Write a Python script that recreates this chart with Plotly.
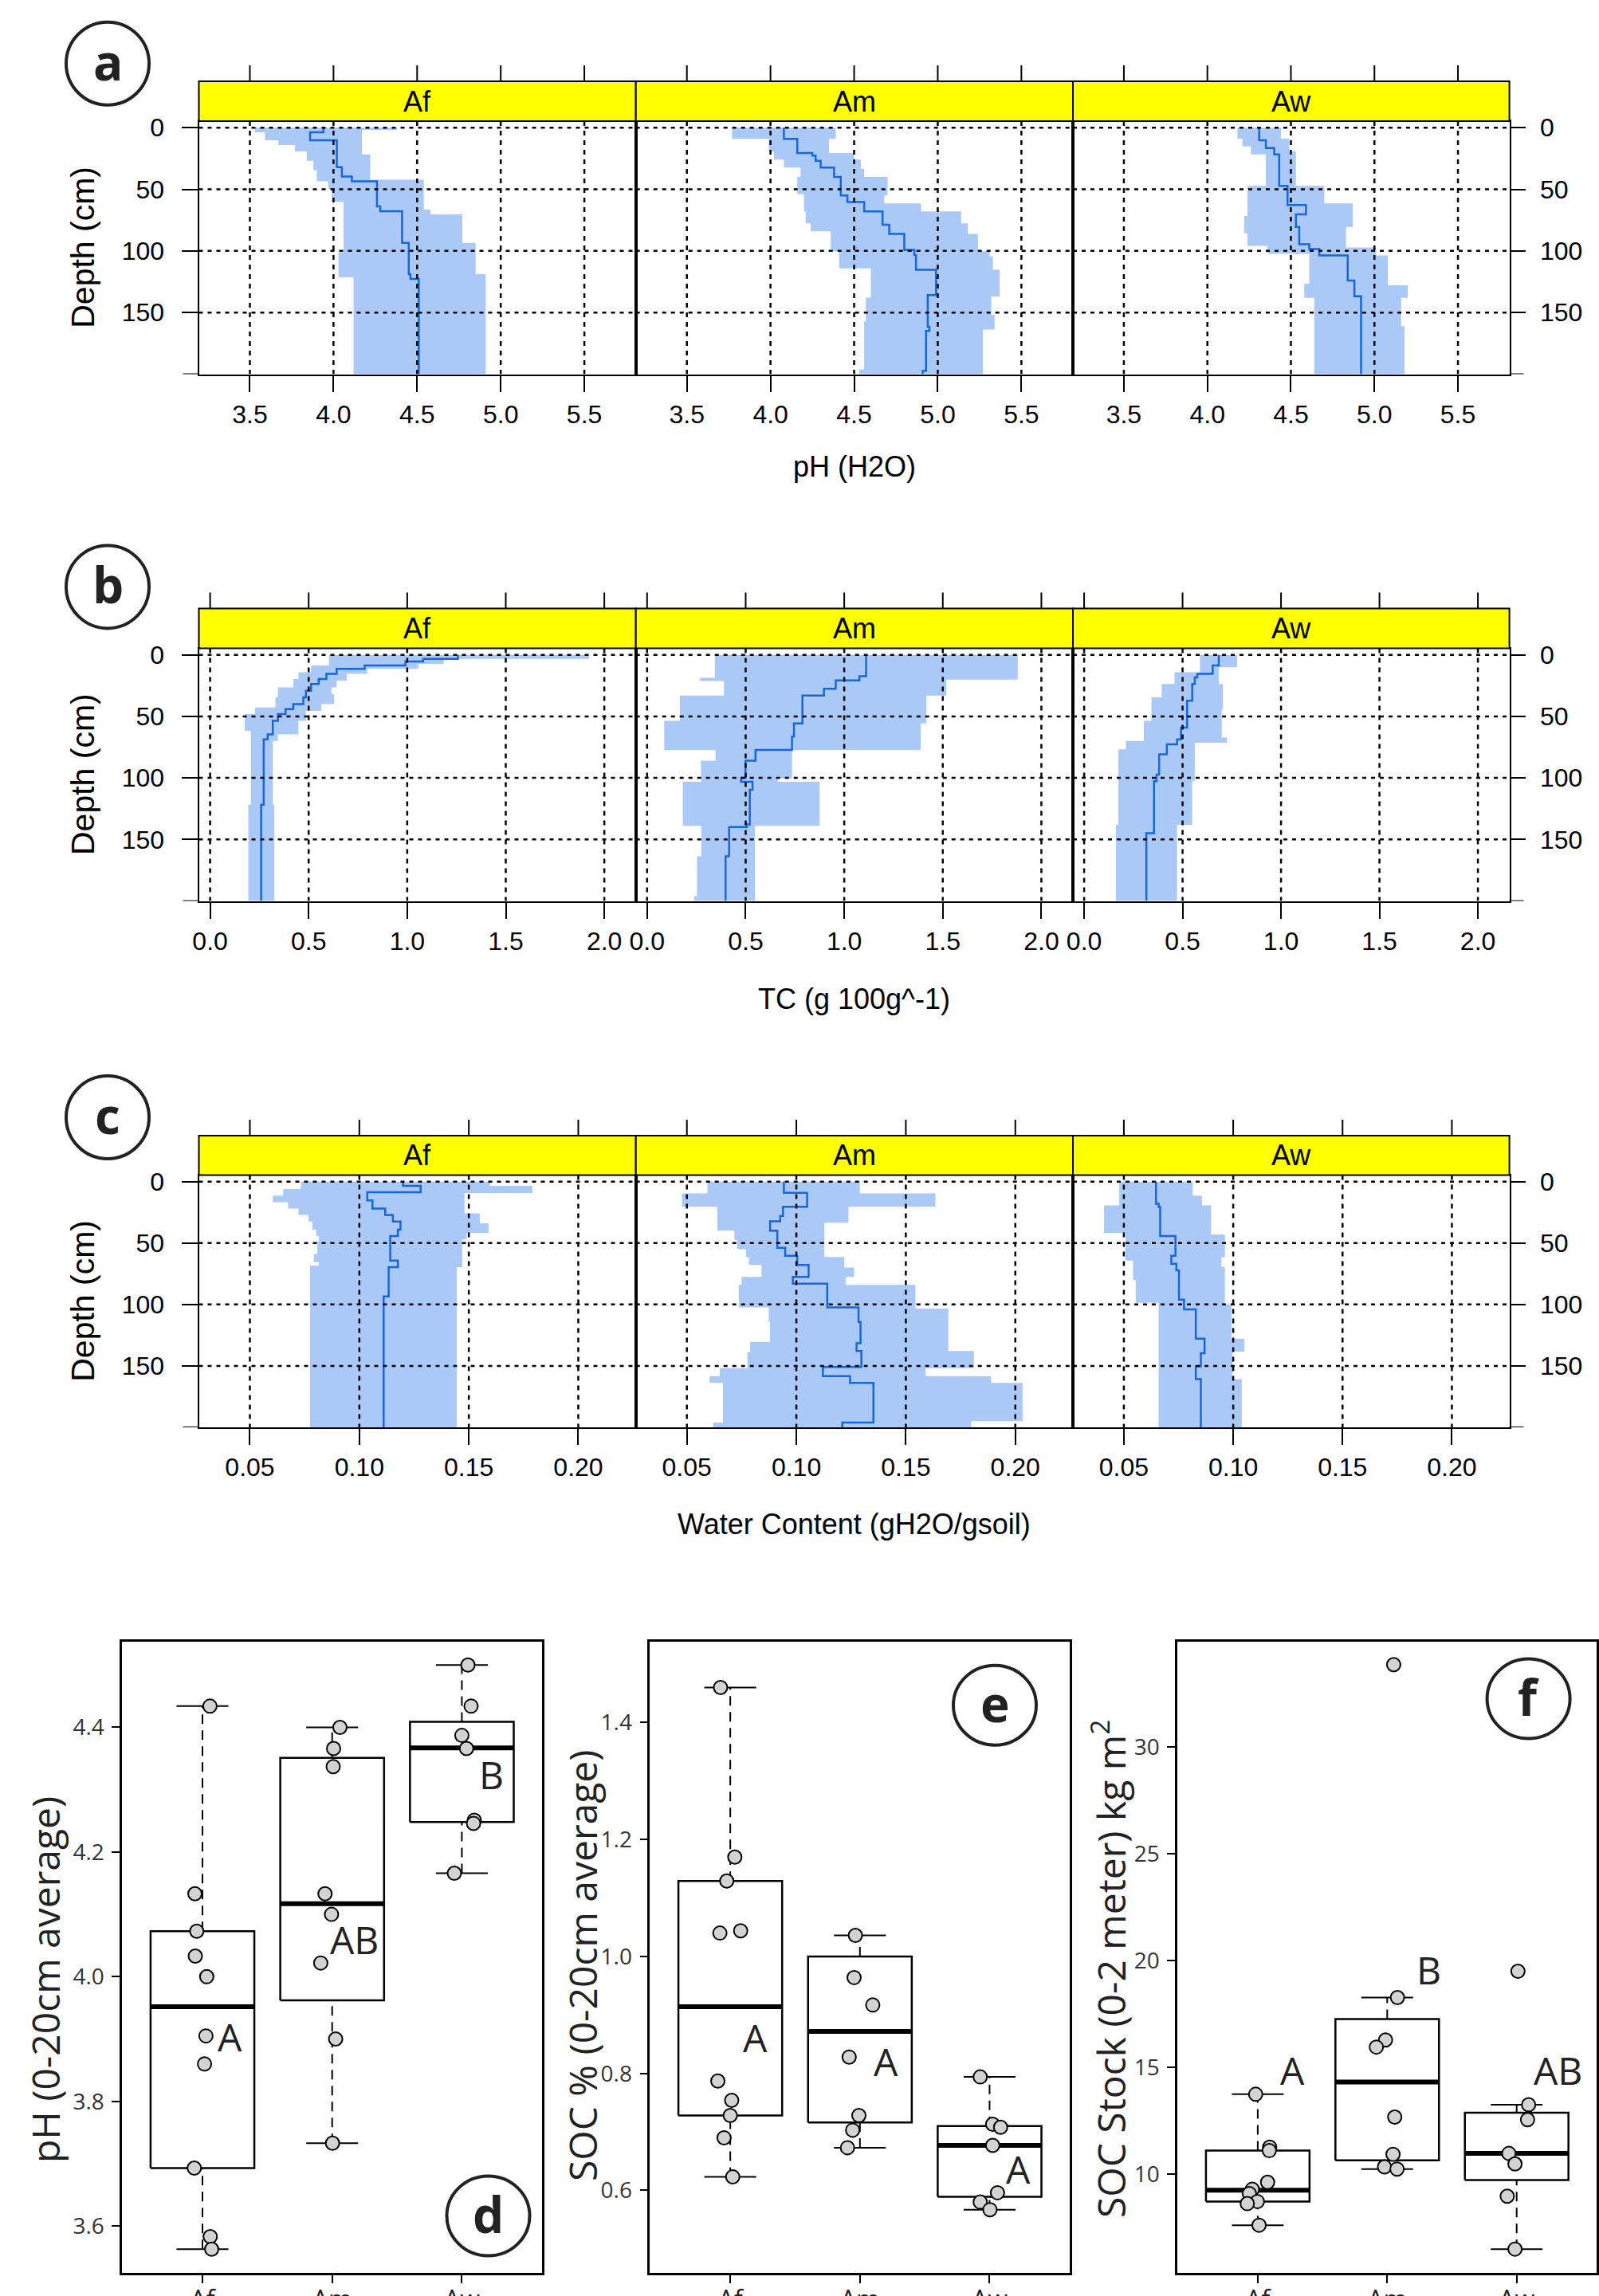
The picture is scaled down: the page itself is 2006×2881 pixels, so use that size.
import plotly.graph_objects as go

W, H = 2006, 2881
SITES = ["Af", "Am", "Aw"]

# ---------------- depth profiles: (top depth cm, value) steps ----------------
PH_AF_LO = [(0, 3.53), (3.8, 3.59), (10.2, 3.67), (14.1, 3.77), (19.2, 3.84), (26.9, 3.88), (34.5, 3.90),
            (43.5, 3.97), (49.9, 3.99), (60.1, 4.06), (101, 4.03), (121.5, 4.12)]
PH_AF_MEAN = [(0, 3.94), (3.8, 3.86), (10.2, 4.02), (32, 4.05), (39.6, 4.11), (43.5, 4.26), (63.9, 4.28),
              (67.8, 4.41), (93.4, 4.45), (118.9, 4.46), (122.8, 4.51)]
PH_AF_HI = [(0, 4.38), (1.8, 4.17), (21.7, 4.22), (42.2, 4.54), (66.5, 4.58), (70.3, 4.77), (93.4, 4.85),
            (118.9, 4.91)]

PH_AM_LO = [(0, 3.77), (9.1, 3.99), (19.4, 4.02), (25.9, 4.08), (32.3, 4.18), (39.9, 4.16), (53.9, 4.20),
            (67.9, 4.21), (77.6, 4.24), (84.1, 4.36), (100.2, 4.41), (114.2, 4.60), (137.9, 4.57),
            (157.3, 4.56), (196.1, 4.53)]
PH_AM_MEAN = [(0, 4.08), (9.1, 4.16), (20.5, 4.25), (22.6, 4.27), (26.9, 4.30), (32.3, 4.38), (39.9, 4.42),
              (55, 4.46), (60.3, 4.56), (67.9, 4.67), (78.7, 4.71), (86.2, 4.80), (99.1, 4.86),
              (103.4, 4.87), (115.3, 4.99), (135.8, 4.94), (161.6, 4.95), (164.9, 4.93), (197.2, 4.91)]
PH_AM_HI = [(0, 4.39), (9.1, 4.35), (20.5, 4.50), (25.9, 4.54), (33.4, 4.56), (39.9, 4.70), (55, 4.68),
            (61.4, 4.90), (67.9, 5.14), (77.6, 5.18), (86.2, 5.24), (100.2, 5.31), (104.5, 5.33),
            (115.3, 5.37), (136.9, 5.32), (151.9, 5.34), (163.8, 5.27)]

PH_AW_LO = [(0, 4.18), (9, 4.21), (15.3, 4.26), (21.7, 4.35), (47.3, 4.24), (71.6, 4.22), (85.7, 4.24),
            (95.9, 4.36), (102.3, 4.61), (126.6, 4.58), (138.1, 4.64)]
PH_AW_MEAN = [(0, 4.31), (10.2, 4.35), (16.6, 4.40), (21.7, 4.43), (47.3, 4.48), (62.7, 4.59), (70.3, 4.53),
              (80.6, 4.55), (94.6, 4.61), (98.5, 4.67), (103.6, 4.84), (124, 4.88), (136.8, 4.92)]
PH_AW_HI = [(0, 4.44), (9, 4.49), (19.2, 4.53), (47.3, 4.70), (61.4, 4.87), (80.6, 4.83), (97.2, 5.01),
            (103.6, 5.08), (127.9, 5.20), (138.1, 5.16), (161.1, 5.18)]

TC_AF_LO = [(0, 0.603), (8.7, 0.512), (14.2, 0.448), (19.6, 0.422), (26.4, 0.344), (34.6, 0.331),
            (42.8, 0.228), (48.2, 0.176), (61.9, 0.207), (121.8, 0.194)]
TC_AF_MEAN = [(0, 1.257), (3.3, 1.081), (5.4, 0.991), (8.7, 0.784), (11.4, 0.642), (15.5, 0.590),
              (19.6, 0.551), (23.7, 0.512), (29.2, 0.486), (34.6, 0.473), (40.1, 0.422), (44.1, 0.383),
              (48.2, 0.344), (53.7, 0.318), (64.6, 0.292), (68.7, 0.272), (121.8, 0.259)]
TC_AF_HI = [(0, 1.922), (3.3, 1.185), (7.4, 1.056), (11.4, 0.797), (15.5, 0.693), (21, 0.642), (26.4, 0.616),
            (31.9, 0.629), (40.1, 0.564), (45.5, 0.486), (53.7, 0.448), (64.6, 0.344), (70, 0.318),
            (121.8, 0.326)]

TC_AM_LO = [(0, 0.344), (18.6, 0.268), (21.2, 0.390), (33, 0.166), (53.6, 0.087), (77.3, 0.347), (86, 0.272),
            (100.4, 0.275), (103.2, 0.181), (138.9, 0.275), (163.7, 0.253), (196.1, 0.239)]
TC_AM_MEAN = [(0, 1.111), (17.3, 1.077), (20.7, 0.957), (27.6, 0.897), (33, 0.788), (55.7, 0.745),
              (66.5, 0.735), (77.3, 0.550), (86, 0.499), (100, 0.477), (103.2, 0.535), (109.7, 0.521),
              (137.8, 0.506), (140, 0.416), (163.7, 0.398)]
TC_AM_HI = [(0, 1.880), (20.1, 1.518), (33, 1.417), (55.7, 1.388), (77.3, 0.735), (100.4, 0.665),
            (103.2, 0.875), (138.9, 0.547)]

TC_AW_LO = [(0, 0.588), (14.2, 0.459), (23.7, 0.394), (34.6, 0.342), (53.7, 0.303), (70, 0.212),
            (76.8, 0.174), (138.1, 0.161)]
TC_AW_MEAN = [(0, 0.684), (8.7, 0.653), (15.5, 0.575), (18.3, 0.562), (23.7, 0.549), (37.3, 0.523),
              (59.1, 0.492), (68.7, 0.472), (72.8, 0.420), (80.9, 0.381), (97.3, 0.368), (102.7, 0.355),
              (145, 0.316)]
TC_AW_HI = [(0, 0.777), (10.1, 0.684), (23.7, 0.705), (44.1, 0.699), (67.3, 0.725), (71.4, 0.562),
            (102.7, 0.549), (138.1, 0.472)]

WC_AF_LO = [(0, 0.0733), (6.1, 0.0652), (11.4, 0.0605), (16.7, 0.0675), (22, 0.0722), (27.2, 0.0768),
            (32.5, 0.0785), (39.2, 0.0803), (44.4, 0.0815), (48.4, 0.0808), (59, 0.0792), (65.6, 0.0815),
            (68.3, 0.0775)]
WC_AF_MEAN = [(0, 0.1200), (3.4, 0.1280), (8.7, 0.1036), (15.3, 0.1060), (22, 0.1118), (27.2, 0.1153),
              (32.5, 0.1188), (39.2, 0.1176), (44.4, 0.1141), (64.3, 0.1176), (69.6, 0.1134), (93.4, 0.1111)]
WC_AF_HI = [(0, 0.1596), (3.4, 0.1790), (9.3, 0.1480), (25.9, 0.1550), (33.9, 0.1590), (41.8, 0.1490),
            (47.1, 0.1470), (69.6, 0.1445)]

WC_AM_LO = [(0, 0.0594), (9.7, 0.0477), (20.5, 0.0639), (39.9, 0.0717), (47.4, 0.0730), (55, 0.0770),
            (61.4, 0.0783), (67.9, 0.0841), (77.6, 0.0750), (84.1, 0.0737), (102.4, 0.0874), (114.2, 0.0880),
            (130.4, 0.0789), (139, 0.0776), (151.9, 0.0650), (158.4, 0.0604), (163.8, 0.0665),
            (196.1, 0.0620)]
WC_AM_MEAN = [(0, 0.0943), (9.1, 0.1049), (20.5, 0.0939), (28, 0.0926), (32.3, 0.0880), (39.9, 0.0913),
              (53.9, 0.0949), (60.3, 0.1004), (67.9, 0.1056), (77.6, 0.0984), (83, 0.1141), (102.4, 0.1284),
              (114.2, 0.1293), (131.5, 0.1275), (137.9, 0.1297), (150.9, 0.1121), (158.4, 0.1245),
              (163.8, 0.1352), (196.1, 0.1210)]
WC_AM_HI = [(0, 0.1290), (9.7, 0.1635), (20.5, 0.1238), (33.4, 0.1128), (61.4, 0.1219), (70, 0.1264),
            (77.6, 0.1225), (84.1, 0.1544), (103.4, 0.1694), (137.9, 0.1811), (151.9, 0.1590),
            (158.4, 0.1889), (163.8, 0.2033), (195, 0.1798)]

WC_AW_LO = [(0, 0.0479), (19.3, 0.0409), (41.8, 0.0507), (64.3, 0.0542), (80.2, 0.0554), (98.7, 0.0659)]
WC_AW_MEAN = [(0, 0.0647), (18, 0.0659), (20.6, 0.0666), (44.4, 0.0736), (60.3, 0.0717), (66.9, 0.0740),
              (72.2, 0.0752), (96, 0.0775), (104, 0.0829), (127.8, 0.0869), (139.7, 0.0852), (150.3, 0.0829),
              (160.8, 0.0852)]
WC_AW_HI = [(0, 0.0815), (11.4, 0.0857), (19.3, 0.0899), (43.1, 0.0962), (61.6, 0.0946), (69.6, 0.0962),
            (100, 0.0992), (127.8, 0.1051), (138.4, 0.0997), (160.8, 0.1039)]

PH_TICKS = [3.5, 4.0, 4.5, 5.0, 5.5]
TC_TICKS = [0.0, 0.5, 1.0, 1.5, 2.0]
WC_TICKS = [0.05, 0.10, 0.15, 0.20]
DEPTH_TICKS = [0, 50, 100, 150]
DEPTH_BOTTOM = 200

# ---------------- boxplot data ----------------
# box stats: (lower whisker, Q1, median, Q3, upper whisker)
D_STATS = [(3.563, 3.693, 3.952, 4.073, 4.434), (3.733, 3.962, 4.117, 4.351, 4.400),
           (4.166, 4.248, 4.367, 4.409, 4.500)]
D_AF = [4.434, 4.133, 4.073, 4.033, 4.000, 3.905, 3.860, 3.693, 3.583, 3.563]
D_AM = [4.400, 4.366, 4.337, 4.133, 4.100, 4.022, 3.900, 3.733]
D_AW = [4.500, 4.434, 4.387, 4.366, 4.251, 4.246, 4.166]
D_AF_JIT = [0.058, -0.058, -0.044, -0.055, 0.033, 0.027, 0.016, -0.063, 0.060, 0.071]
D_AM_JIT = [0.060, 0.011, 0.008, -0.055, -0.005, -0.088, 0.027, 0.003]
D_AW_JIT = [0.047, 0.071, 0.000, 0.036, 0.096, 0.090, -0.058]

E_STATS = [(0.623, 0.728, 0.914, 1.129, 1.460), (0.673, 0.716, 0.872, 1.000, 1.036),
           (0.567, 0.589, 0.677, 0.710, 0.794)]
E_AF = [1.460, 1.170, 1.129, 1.040, 1.044, 0.787, 0.754, 0.728, 0.690, 0.623]
E_AM = [1.036, 0.964, 0.917, 0.828, 0.728, 0.703, 0.673]
E_AW = [0.794, 0.713, 0.708, 0.677, 0.596, 0.580, 0.567]
E_AF_JIT = [-0.075, 0.035, -0.027, -0.080, 0.080, -0.096, 0.011, 0.000, -0.048, 0.019]
E_AM_JIT = [-0.035, -0.045, 0.099, -0.083, -0.008, -0.056, -0.096]
E_AW_JIT = [-0.072, 0.024, 0.085, 0.024, 0.061, -0.072, 0.003]

F_STATS = [(7.62, 8.73, 9.26, 11.11, 13.75), (10.25, 10.66, 14.32, 17.27, 18.28),
           (6.50, 9.73, 10.98, 12.89, 13.26)]
F_AF = [13.75, 11.27, 11.11, 9.63, 9.30, 9.10, 8.73, 8.63, 7.62]
F_AM = [33.87, 18.28, 16.29, 15.96, 12.68, 10.94, 10.35, 10.25]
F_AW = [19.51, 13.26, 12.56, 10.98, 10.49, 8.98, 6.50]
F_AF_JIT = [-0.016, 0.092, 0.089, 0.076, -0.042, -0.065, -0.003, -0.081, 0.010]
F_AM_JIT = [0.050, 0.079, -0.013, -0.084, 0.058, 0.045, -0.021, 0.076]
F_AW_JIT = [0.010, 0.092, 0.084, -0.060, -0.013, -0.073, -0.013]

D_LETTERS = [("A", 1.21, 3.904), ("AB", 2.17, 4.06), ("B", 3.23, 4.325)]
E_LETTERS = [("A", 1.19, 0.861), ("A", 2.20, 0.821), ("A", 3.22, 0.637)]
F_LETTERS = [("A", 1.27, 14.88), ("B", 2.32, 19.57), ("AB", 3.32, 14.88)]

# ---------------- layout geometry (pixels) ----------------
COLS = [(249.5, 797.7), (797.7, 1346.0), (1346.0, 1893.6)]
ROWS = [(102.0, 152.0, 469.5), (763.5, 813.5, 1130.5), (1425.0, 1474.5, 1791.0)]
DEPTH_RANGE = [200, -5.3]
BOX_COLS = [(153.1, 680.3), (815.3, 1342.3), (1477.2, 2003.4)]
BOX_ROW = (2059.5, 2851.9)

BAND = "#abc9f6"
MEANC = "#1766dc"
PFONT = "Liberation Sans"
BFONT = "Open Sans"


def fx(p):
    return p / W


def fy(p):
    return 1 - p / H


def steps(pairs, bottom=DEPTH_BOTTOM):
    xs, ys = [], []
    for i, (top, v) in enumerate(pairs):
        nxt = pairs[i + 1][0] if i + 1 < len(pairs) else bottom
        xs += [v, v]
        ys += [top, nxt]
    return xs, ys


fig = go.Figure()
shapes = []
annos = []

profiles = [
    ("pH (H2O)", [3.195, 5.808], PH_TICKS, ".1f",
     [(PH_AF_LO, PH_AF_MEAN, PH_AF_HI), (PH_AM_LO, PH_AM_MEAN, PH_AM_HI), (PH_AW_LO, PH_AW_MEAN, PH_AW_HI)]),
    ("TC (g 100g^-1)", [-0.057, 2.16], TC_TICKS, ".1f",
     [(TC_AF_LO, TC_AF_MEAN, TC_AF_HI), (TC_AM_LO, TC_AM_MEAN, TC_AM_HI), (TC_AW_LO, TC_AW_MEAN, TC_AW_HI)]),
    ("Water Content (gH2O/gsoil)", [0.0267, 0.2263], WC_TICKS, ".2f",
     [(WC_AF_LO, WC_AF_MEAN, WC_AF_HI), (WC_AM_LO, WC_AM_MEAN, WC_AM_HI), (WC_AW_LO, WC_AW_MEAN, WC_AW_HI)]),
]
TITLE_Y = [586, 1253, 1912]
CIRCLE_Y = [79.7, 736.4, 1402.0]
PANEL_LETTERS = ["a", "b", "c"]

layout = {}
for r, (xtitle, xr, xt, xfmt, series) in enumerate(profiles):
    s_top, p_top, p_bot = ROWS[r]
    for c in range(3):
        k = r * 3 + c + 1
        xa, ya = f"x{k}", f"y{k}"
        lo, mean, hi = series[c]
        lx, ly = steps(lo)
        hx, hy = steps(hi)
        fig.add_trace(go.Scatter(x=lx + hx[::-1], y=ly + hy[::-1], fill="toself", fillcolor=BAND,
                                 line=dict(width=0), mode="lines", xaxis=xa, yaxis=ya,
                                 showlegend=False, hoverinfo="skip"))
        mx, my = steps(mean)
        fig.add_trace(go.Scatter(x=mx, y=my, mode="lines", line=dict(color=MEANC, width=2.5),
                                 xaxis=xa, yaxis=ya, showlegend=False))
        x0, x1 = COLS[c]
        layout[f"xaxis{k}"] = dict(
            domain=[fx(x0), fx(x1)], range=xr, anchor=ya, tickvals=xt, tickformat=xfmt,
            ticks="outside", ticklen=20, tickwidth=2, tickcolor="black", automargin=False,
            showline=True, mirror=True, linecolor="black", linewidth=2,
            showgrid=False, zeroline=False, tickfont=dict(family=PFONT, size=32, color="black"),
            ticklabelstandoff=1)
        yd = dict(domain=[fy(p_bot), fy(p_top)], range=DEPTH_RANGE, anchor=xa, automargin=False,
                  showline=True, mirror=True, linecolor="black", linewidth=2,
                  showgrid=False, zeroline=False, tickvals=DEPTH_TICKS,
                  tickfont=dict(family=PFONT, size=32, color="black"))
        if c == 0:
            yd.update(ticks="outside", ticklen=20, tickwidth=2, tickcolor="black", side="left",
                      ticklabelstandoff=15)
        elif c == 2:
            yd.update(ticks="outside", ticklen=18, tickwidth=2, tickcolor="black", side="right",
                      ticklabelstandoff=12)
        else:
            yd.update(ticks="", showticklabels=False)
        layout[f"yaxis{k}"] = yd
        # tick at the bottom depth (no label), outside the frame
        if c == 0:
            shapes.append(dict(type="line", xref="paper", yref=ya, x0=fx(x0 - 20), x1=fx(x0),
                               y0=DEPTH_BOTTOM, y1=DEPTH_BOTTOM, line=dict(color="black", width=2)))
        if c == 2:
            shapes.append(dict(type="line", xref="paper", yref=ya, x0=fx(x1), x1=fx(x1 + 18),
                               y0=DEPTH_BOTTOM, y1=DEPTH_BOTTOM, line=dict(color="black", width=2)))
        # dotted grid drawn on top of the bands
        for t in xt:
            shapes.append(dict(type="line", xref=xa, yref=ya, x0=t, x1=t, y0=DEPTH_RANGE[1], y1=DEPTH_RANGE[0],
                               line=dict(color="black", width=2.5, dash="6px,6px"), layer="above"))
        for t in DEPTH_TICKS:
            shapes.append(dict(type="line", xref=xa, yref=ya, x0=xr[0], x1=xr[1], y0=t, y1=t,
                               line=dict(color="black", width=2.5, dash="5px,6px"), layer="above"))
        # ticks above the strip
        for t in xt:
            shapes.append(dict(type="line", xref=xa, yref="paper", x0=t, x1=t, y0=fy(s_top), y1=fy(s_top - 20),
                               line=dict(color="black", width=2)))
        # strip
        shapes.append(dict(type="rect", xref="paper", yref="paper", x0=fx(x0), x1=fx(x1),
                           y0=fy(p_top), y1=fy(s_top), fillcolor="#ffff00",
                           line=dict(color="black", width=2), layer="above"))
        annos.append(dict(xref="paper", yref="paper", x=fx((x0 + x1) / 2), y=fy((s_top + p_top) / 2),
                          text=SITES[c], showarrow=False, xanchor="center", yanchor="middle",
                          font=dict(family=PFONT, size=36, color="black")))
    annos.append(dict(xref="paper", yref="paper", x=fx((COLS[0][0] + COLS[2][1]) / 2), y=fy(TITLE_Y[r]),
                      text=xtitle, showarrow=False, xanchor="center", yanchor="middle",
                      font=dict(family=PFONT, size=36, color="black")))
    annos.append(dict(xref="paper", yref="paper", x=fx(104), y=fy((p_top + p_bot) / 2),
                      text="Depth (cm)", textangle=-90, showarrow=False, xanchor="center", yanchor="middle",
                      font=dict(family=PFONT, size=41, color="black")))
    cy = CIRCLE_Y[r]
    shapes.append(dict(type="circle", xref="paper", yref="paper", x0=fx(135 - 52), x1=fx(135 + 52),
                       y0=fy(cy + 52), y1=fy(cy - 52), line=dict(color="#222", width=4)))
    annos.append(dict(xref="paper", yref="paper", x=fx(135), y=fy(cy - 3), text=f"<b>{PANEL_LETTERS[r]}</b>",
                      showarrow=False, xanchor="center", yanchor="middle",
                      font=dict(family=BFONT, size=62, color="#222")))

# ---------------- boxplots ----------------
boxpanels = [
    ("pH (0-20cm average)", [3.525, 4.538], 0.2, ".1f", D_STATS,
     [(D_AF, D_AF_JIT), (D_AM, D_AM_JIT), (D_AW, D_AW_JIT)], D_LETTERS, (56, 2484), "d", (612.5, 2780.5)),
    ("SOC % (0-20cm average)", [0.459, 1.539], 0.2, ".1f", E_STATS,
     [(E_AF, E_AF_JIT), (E_AM, E_AM_JIT), (E_AW, E_AW_JIT)], E_LETTERS, (730, 2467), "e", (1248, 2139.7)),
    ("SOC Stock (0-2 meter) kg m<sup>2</sup>", [5.39, 34.96], 5, "d", F_STATS,
     [(F_AF, F_AF_JIT), (F_AM, F_AM_JIT), (F_AW, F_AW_JIT)], F_LETTERS, (1391, 2471), "f", (1917.6, 2131.5)),
]
b_top, b_bot = BOX_ROW
for j, (ytitle, yr, dt, yfmt, stats, pts, letters, tpos, lab, cc) in enumerate(boxpanels):
    k = 10 + j
    xa, ya = f"x{k}", f"y{k}"
    wx, wy, cx_, cy_, bx, by, mx_, my_ = [], [], [], [], [], [], [], []
    for i, (lw, q1, md, q3, uw) in enumerate(stats):
        x = i + 1
        wx += [x, x, None, x, x, None]
        wy += [q3, uw, None, lw, q1, None]
        cx_ += [x - 0.2, x + 0.2, None, x - 0.2, x + 0.2, None]
        cy_ += [uw, uw, None, lw, lw, None]
        bx += [x - 0.4, x + 0.4, x + 0.4, x - 0.4, x - 0.4, None]
        by += [q1, q1, q3, q3, q1, None]
        mx_ += [x - 0.4, x + 0.4, None]
        my_ += [md, md, None]
    common = dict(xaxis=xa, yaxis=ya, showlegend=False, mode="lines", hoverinfo="skip")
    fig.add_trace(go.Scatter(x=wx, y=wy, line=dict(color="black", width=2, dash="12px,8px"), **common))
    fig.add_trace(go.Scatter(x=cx_, y=cy_, line=dict(color="black", width=2), **common))
    fig.add_trace(go.Scatter(x=bx, y=by, line=dict(color="black", width=2.5), **common))
    fig.add_trace(go.Scatter(x=mx_, y=my_, line=dict(color="black", width=6), **common))
    for i, (vals, jit) in enumerate(pts):
        fig.add_trace(go.Scatter(x=[i + 1 + d for d in jit], y=vals, mode="markers", xaxis=xa, yaxis=ya,
                                 showlegend=False,
                                 marker=dict(size=17, color="#d3d3d3", line=dict(color="black", width=2))))
    x0, x1 = BOX_COLS[j]
    layout[f"xaxis{k}"] = dict(domain=[fx(x0), fx(x1)], range=[0.38, 3.62], anchor=ya, automargin=False,
                               tickvals=[1, 2, 3], ticktext=SITES, ticks="outside", ticklen=10, tickwidth=2,
                               tickcolor="black", showline=True, mirror=True, linecolor="black", linewidth=2.5,
                               showgrid=False, zeroline=False, ticklabelstandoff=-6,
                               tickfont=dict(family=BFONT, size=32, color="#222"))
    layout[f"yaxis{k}"] = dict(domain=[fy(b_bot), fy(b_top)], range=yr, anchor=xa, dtick=dt, tickformat=yfmt,
                               ticks="outside", ticklen=10, tickwidth=2, tickcolor="black", automargin=False,
                               showline=True, mirror=True, linecolor="black", linewidth=2.5,
                               showgrid=False, zeroline=False, ticklabelstandoff=4,
                               tickfont=dict(family=BFONT, size=28, color="#333"))
    for (t, lx_, ly_) in letters:
        annos.append(dict(xref=xa, yref=ya, x=lx_, y=ly_, text=t, showarrow=False, xanchor="center",
                          yanchor="middle", font=dict(family=BFONT, size=48, color="#222")))
    annos.append(dict(xref="paper", yref="paper", x=fx(tpos[0]), y=fy(tpos[1]), text=ytitle,
                      textangle=-90, showarrow=False, xanchor="center", yanchor="middle",
                      font=dict(family=BFONT, size=48, color="#222")))
    shapes.append(dict(type="circle", xref="paper", yref="paper", x0=fx(cc[0] - 52), x1=fx(cc[0] + 52),
                       y0=fy(cc[1] + 50), y1=fy(cc[1] - 50), line=dict(color="#222", width=4)))
    annos.append(dict(xref="paper", yref="paper", x=fx(cc[0]), y=fy(cc[1] - 3), text=f"<b>{lab}</b>",
                      showarrow=False, xanchor="center", yanchor="middle",
                      font=dict(family=BFONT, size=62, color="#222")))

fig.update_layout(width=W, height=H, autosize=False,
                  margin=dict(l=0, r=0, t=0, b=0, pad=0, autoexpand=False),
                  paper_bgcolor="white", plot_bgcolor="white", shapes=shapes, annotations=annos,
                  showlegend=False, **layout)
fig.write_html("out.html", config={"displayModeBar": False},
               post_script="document.body.style.margin='0px';document.body.style.overflow='hidden';")
